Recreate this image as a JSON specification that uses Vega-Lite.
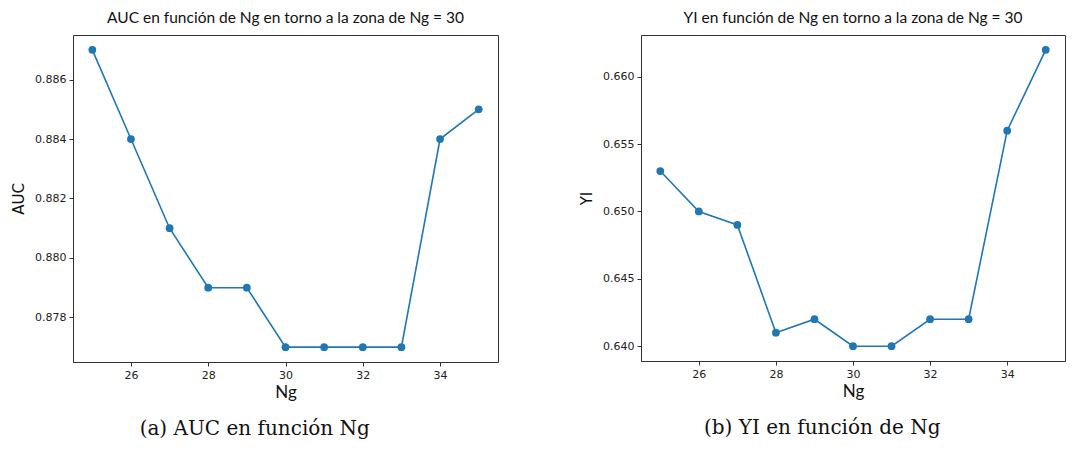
{
  "$schema": "https://vega.github.io/schema/vega-lite/v6.json",
  "background": "white",
  "padding": {"left": 11, "top": 10, "right": 0, "bottom": 0},
  "spacing": 80,
  "datasets": {
    "auc": [
      {"Ng": 25, "AUC": 0.887}, {"Ng": 26, "AUC": 0.884}, {"Ng": 27, "AUC": 0.881},
      {"Ng": 28, "AUC": 0.879}, {"Ng": 29, "AUC": 0.879}, {"Ng": 30, "AUC": 0.877},
      {"Ng": 31, "AUC": 0.877}, {"Ng": 32, "AUC": 0.877}, {"Ng": 33, "AUC": 0.877},
      {"Ng": 34, "AUC": 0.884}, {"Ng": 35, "AUC": 0.885}
    ],
    "yi": [
      {"Ng": 25, "YI": 0.653}, {"Ng": 26, "YI": 0.650}, {"Ng": 27, "YI": 0.649},
      {"Ng": 28, "YI": 0.641}, {"Ng": 29, "YI": 0.642}, {"Ng": 30, "YI": 0.640},
      {"Ng": 31, "YI": 0.640}, {"Ng": 32, "YI": 0.642}, {"Ng": 33, "YI": 0.642},
      {"Ng": 34, "YI": 0.656}, {"Ng": 35, "YI": 0.662}
    ]
  },
  "hconcat": [
    {
      "title": {"text": "(a) AUC en función Ng", "orient": "bottom", "anchor": "middle", "font": "DejaVu Serif", "fontSize": 20, "fontWeight": "normal", "color": "#111", "offset": 18},
      "vconcat": [
        {
          "width": 425,
          "height": 327,
          "data": {"name": "auc"},
          "title": {"text": "AUC en función de Ng en torno a la zona de Ng = 30", "font": "Lato", "fontSize": 15.5, "fontWeight": "normal", "color": "#111", "offset": 9},
          "encoding": {
            "x": {"field": "Ng", "type": "quantitative", "scale": {"domain": [24.5, 35.5], "nice": false, "zero": false},
                  "axis": {"values": [26, 28, 30, 32, 34], "title": "Ng", "titleFont": "Lato", "titleFontSize": 17}},
            "y": {"field": "AUC", "type": "quantitative", "scale": {"domain": [0.8765, 0.8875], "nice": false, "zero": false},
                  "axis": {"values": [0.878, 0.880, 0.882, 0.884, 0.886], "format": ".3f", "title": "AUC"}}
          },
          "layer": [
            {"mark": {"type": "line", "color": "#1f77b4", "strokeWidth": 1.6}},
            {"mark": {"type": "point", "filled": true, "color": "#1f77b4", "size": 60, "opacity": 1}}
          ]
        }
      ]
    },
    {
      "title": {"text": "(b) YI en función de Ng", "orient": "bottom", "anchor": "middle", "font": "DejaVu Serif", "fontSize": 20, "fontWeight": "normal", "color": "#111", "offset": 18},
      "vconcat": [
        {
          "width": 424,
          "height": 326,
          "data": {"name": "yi"},
          "title": {"text": "YI en función de Ng en torno a la zona de Ng = 30", "font": "Lato", "fontSize": 15.5, "fontWeight": "normal", "color": "#111", "offset": 9},
          "encoding": {
            "x": {"field": "Ng", "type": "quantitative", "scale": {"domain": [24.5, 35.5], "nice": false, "zero": false},
                  "axis": {"values": [26, 28, 30, 32, 34], "title": "Ng", "titleFont": "Lato", "titleFontSize": 17}},
            "y": {"field": "YI", "type": "quantitative", "scale": {"domain": [0.6389, 0.6631], "nice": false, "zero": false},
                  "axis": {"values": [0.640, 0.645, 0.650, 0.655, 0.660], "format": ".3f", "title": "YI"}}
          },
          "layer": [
            {"mark": {"type": "line", "color": "#1f77b4", "strokeWidth": 1.6}},
            {"mark": {"type": "point", "filled": true, "color": "#1f77b4", "size": 60, "opacity": 1}}
          ]
        }
      ]
    }
  ],
  "config": {
    "view": {"stroke": "#333", "strokeWidth": 1},
    "axis": {
      "grid": false,
      "domainColor": "#333",
      "tickColor": "#333",
      "tickSize": 4,
      "labelFont": "DejaVu Sans",
      "labelFontSize": 11,
      "labelColor": "#222",
      "labelPadding": 3,
      "titleFont": "DejaVu Sans",
      "titleFontSize": 15,
      "titleFontWeight": "normal",
      "titleColor": "#111"
    },
    "axisY": {"titlePadding": 8},
    "axisX": {"titlePadding": 4}
  }
}
